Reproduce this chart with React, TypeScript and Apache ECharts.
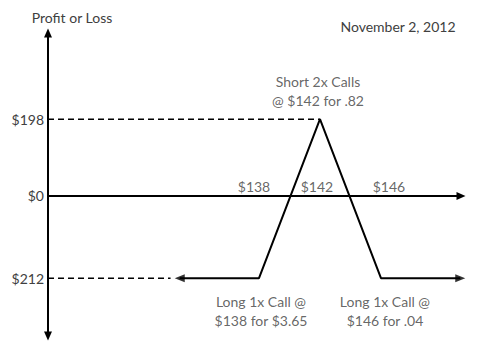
import React, { useEffect, useRef } from 'react';
import * as echarts from 'echarts';

const strikes = [138, 142, 146];
const strikeLabels = ['$138', '$142', '$146'];
const payoffPrice = [132.8, 138, 142, 146, 151.2];
const payoffValue = [-212, -212, 198, -212, -212];
const legPrice = [138, 142, 146];
const legValue = [-212, 198, -212];
const legNotes = ['Long 1x Call @\n$138 for $3.65', 'Short 2x Calls\n@ $142 for .82', 'Long 1x Call @\n$146 for .04'];
const yTickValues = [-212, 0, 198];
const maxProfit = 198;
const maxLoss = -212;
const xMin = 124.16;
const xMax = 151.25;

const FONT = 'Lato';
const TXT = '#404040';

export default function App() {
  const ref = useRef<HTMLDivElement>(null);
  useEffect(() => {
    if (!ref.current) return;
    const chart = echarts.init(ref.current, null, { renderer: 'svg' });
    const strikeOffsets = [[-5, -9], [-3, -9], [8, -9]];
    const noteOffsets = [[2, 33], [-2, -28], [4, 33]];
    const axisLineStyle = { color: '#000', width: 2 };
    const labelBase = { show: true, position: 'inside', formatter: '{b}', color: TXT, fontSize: 14, fontFamily: FONT, textBorderWidth: 0, textBorderColor: 'transparent' };
    chart.setOption({
      animation: false,
      color: [TXT],
      textStyle: { fontFamily: FONT },
      grid: { left: 48, right: 19, top: 33, bottom: 16 },
      graphic: [
        { type: 'text', x: 72, y: 17, style: { text: 'Profit or Loss', fill: TXT, font: `14px ${FONT}`, textAlign: 'center', textVerticalAlign: 'middle' } },
        { type: 'text', x: 398, y: 26, style: { text: 'November 2, 2012', fill: TXT, font: `14px ${FONT}`, textAlign: 'center', textVerticalAlign: 'middle' } },
      ],
      xAxis: {
        type: 'value', min: xMin, max: xMax,
        axisLine: { show: true, onZero: true, symbol: ['none', 'triangle'], symbolSize: [8, 9], lineStyle: axisLineStyle },
        axisTick: { show: false }, axisLabel: { show: false }, splitLine: { show: false },
      },
      yAxis: {
        type: 'value', min: -361, max: 420,
        axisLine: { show: true, symbol: ['triangle', 'triangle'], symbolSize: [8, 9], lineStyle: axisLineStyle },
        axisTick: { show: false }, splitLine: { show: false },
        axisLabel: {
          customValues: yTickValues,
          formatter: (v: number) => '$' + Math.abs(v),
          color: TXT, fontSize: 14, fontFamily: FONT, margin: 4,
        },
      },
      series: [
        {
          type: 'line', silent: true, symbol: 'none',
          data: [[xMin, maxProfit], [142, maxProfit]],
          lineStyle: { color: '#000', width: 1.5, type: [6, 4] },
        },
        {
          type: 'line', silent: true, symbol: 'none',
          data: [[xMin, maxLoss], [132.2, maxLoss]],
          lineStyle: { color: '#000', width: 1.5, type: [6, 4] },
        },
        {
          type: 'line', silent: true, symbol: 'none', clip: false,
          data: payoffPrice.map((p, i) => [p, payoffValue[i]]),
          lineStyle: { color: '#000', width: 2 },
        },
        {
          type: 'scatter', silent: true, clip: false, symbol: 'triangle', symbolSize: [8, 10],
          itemStyle: { color: '#000' },
          data: [
            { value: [payoffPrice[0], payoffValue[0]], symbolRotate: 90 },
            { value: [payoffPrice[payoffPrice.length - 1], payoffValue[payoffValue.length - 1]], symbolRotate: -90 },
          ],
        },
        {
          type: 'scatter', silent: true, symbolSize: 0, itemStyle: { color: TXT },
          data: strikes.map((s, i) => ({
            value: [s, 0], name: strikeLabels[i],
            label: { ...labelBase, offset: strikeOffsets[i] },
          })),
        },
        {
          type: 'scatter', silent: true, symbolSize: 0, itemStyle: { color: TXT },
          data: legPrice.map((p, i) => ({
            value: [p, legValue[i]], name: legNotes[i],
            label: { ...labelBase, offset: noteOffsets[i], lineHeight: 19, align: 'center' },
          })),
        },
      ],
    });
    return () => chart.dispose();
  }, []);
  return <div ref={ref} style={{ width: 480, height: 352, position: 'absolute', left: 0, top: 0 }} />;
}
